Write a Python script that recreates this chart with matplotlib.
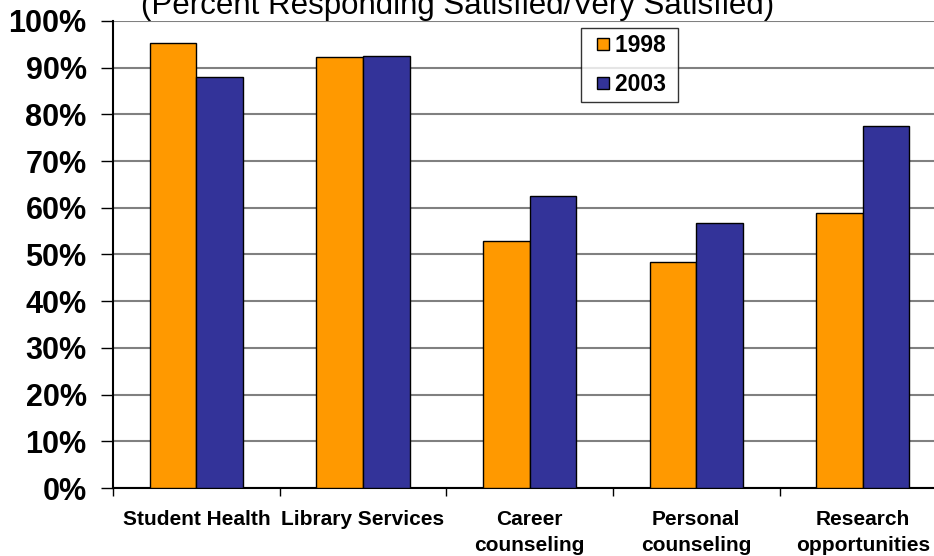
import numpy as np
import matplotlib.pyplot as plt
from matplotlib.lines import Line2D

plt.rcParams['font.family'] = ['Liberation Sans', 'DejaVu Sans']

categories = ['Student Health', 'Library Services', 'Career\ncounseling',
              'Personal\ncounseling', 'Research\nopportunities']
series_names = ['1998', '2003']
values_1998 = [95.3, 92.3, 52.9, 48.4, 58.9]
values_2003 = [88.0, 92.5, 62.5, 56.7, 77.5]
colors = ['#FF9900', '#333399']

fig = plt.figure(figsize=(9.34, 5.56), dpi=100)
ax = fig.add_axes([0.121, 0.1223, 0.892, 0.84])

x = np.arange(len(categories))
w = 0.28
ax.bar(x - w / 2, values_1998, w, color=colors[0], edgecolor='black', linewidth=1, zorder=3)
ax.bar(x + w / 2, values_2003, w, color=colors[1], edgecolor='black', linewidth=1, zorder=3)

ax.set_xlim(-0.5, len(categories) - 0.5)
ax.set_ylim(0, 100)
ax.set_yticks(np.arange(0, 101, 10))
ax.set_yticklabels([f'{v}%' for v in range(0, 101, 10)], fontsize=22, fontweight='bold')
ax.yaxis.grid(True, color='#808080', linewidth=1.5, zorder=0)
ax.set_axisbelow(True)

# category ticks sit between groups, labels at group centres
ax.set_xticks(np.arange(len(categories) + 1) - 0.5)
ax.set_xticklabels([])
ax.set_xticks(x, minor=True)
ax.set_xticklabels(categories, minor=True, fontsize=15, fontweight='bold', linespacing=1.45)
ax.tick_params(axis='x', which='minor', length=0, pad=16)
ax.tick_params(axis='x', which='major', length=6, width=1, direction='out')
ax.tick_params(axis='y', length=9, width=1, direction='out', pad=10)

for s in ['top', 'right']:
    ax.spines[s].set_visible(False)
ax.spines['left'].set_linewidth(1.5)
ax.spines['bottom'].set_linewidth(1.5)

handles = [Line2D([], [], marker='s', linestyle='none', markersize=8.6,
                  markerfacecolor=c, markeredgecolor='black', markeredgewidth=1)
           for c in colors]
leg = ax.legend(handles, [n + ' ' for n in series_names], loc='upper left',
                bbox_to_anchor=(581 / 934, 1 - 28 / 556),
                bbox_transform=fig.transFigure, borderaxespad=0, frameon=True,
                fancybox=False, handlelength=1.43, handletextpad=-0.2,
                labelspacing=0.72, borderpad=0.25,
                prop={'size': 16.5, 'weight': 'bold'})
leg.get_frame().set_edgecolor('black')
leg.get_frame().set_linewidth(1)
leg.set_zorder(5)

fig.text(0.49, 1 - 14 / 556, '(Percent Responding Satisfied/Very Satisfied)',
         ha='center', va='baseline', fontsize=22.5)

fig.savefig('out.png', dpi=100)
